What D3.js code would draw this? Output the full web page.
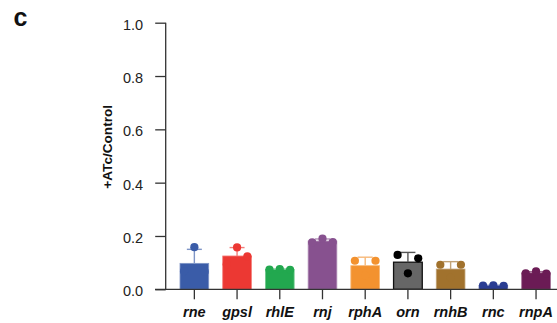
<!DOCTYPE html>
<html>
<head>
<meta charset="utf-8">
<script src="https://cdn.jsdelivr.net/npm/d3@7"></script>
<style>
  html, body { margin: 0; padding: 0; background: #fff; }
  svg { display: block; font-family: "Liberation Sans", Arial, Helvetica, sans-serif; }
</style>
</head>
<body>
<div id="chart"></div>
<script>
// Genes on the x axis
const genes = ['rne', 'gpsl', 'rhlE', 'rnj', 'rphA', 'orn', 'rnhB', 'rnc', 'rnpA'];
const fills = ['#3a5ca8', '#ec3833', '#22a84f', '#87518f', '#f3922f', '#666666', '#a1722d', '#2a3d92', '#6b1b55'];

// Replicates (left / centre / right dot)
const rep1 = [0.068, 0.094, 0.074, 0.176, 0.107, 0.129, 0.092, 0.014, 0.060];
const rep2 = [0.158, 0.157, 0.076, 0.190, 0.052, 0.060, 0.044, 0.015, 0.067];
const rep3 = [0.066, 0.124, 0.073, 0.177, 0.107, 0.116, 0.092, 0.013, 0.059];

const yTicks = [0, 0.2, 0.4, 0.6, 0.8, 1.0];

const width = 557, height = 323;
const svg = d3.select('#chart').append('svg')
  .attr('width', width)
  .attr('height', height);

const x = d3.scaleBand()
  .domain(genes)
  .range([173, 557.4])
  .paddingInner(0.328)
  .paddingOuter(0.164);

const y = d3.scaleLinear()
  .domain([0, 1])
  .range([289.3, 22.7]);

const rows = genes.map((g, i) => {
  const vals = [rep1[i], rep2[i], rep3[i]];
  return {
    gene: g,
    fill: fills[i],
    vals: vals,
    mean: d3.mean(vals),
    sd: d3.deviation(vals)
  };
});

const axisColor = '#333';
const lighten = c => d3.interpolateRgb(c, '#fff')(0.35);

// Y axis
const yAxis = svg.append('g')
  .attr('transform', 'translate(165.7,0)')
  .call(d3.axisLeft(y).tickValues(yTicks).tickSize(10.5).tickPadding(12).tickFormat(d3.format('.1f')));
yAxis.select('.domain').attr('stroke', axisColor).attr('stroke-width', 1.3).attr('d', `M0,${y(1)}V${y(0)}`);
yAxis.selectAll('.tick line').attr('stroke', axisColor).attr('stroke-width', 1.3);
yAxis.selectAll('.tick text')
  .attr('fill', '#222')
  .attr('font-size', '14.5px')
  .attr('dy', '0.45em')
  .style('font-family', '"Liberation Sans", Arial, sans-serif');

// Bars
svg.selectAll('rect.bar')
  .data(rows)
  .join('rect')
  .attr('class', 'bar')
  .attr('x', d => x(d.gene))
  .attr('y', d => y(d.mean))
  .attr('width', x.bandwidth())
  .attr('height', d => y(0) - y(d.mean))
  .attr('fill', d => d.fill)
  .attr('stroke', d => d.gene === 'orn' ? '#111' : lighten(d.fill))
  .attr('stroke-width', d => d.gene === 'orn' ? 1.3 : 0.8);

// Error bars (mean + SD, upward only)
const capHalf = 7.5;
const err = svg.selectAll('g.err')
  .data(rows)
  .join('g')
  .attr('class', 'err')
  .attr('stroke', d => d.gene === 'orn' ? '#555' : lighten(d.fill))
  .attr('stroke-width', 1.4);
err.append('line')
  .attr('x1', d => x(d.gene) + x.bandwidth() / 2)
  .attr('x2', d => x(d.gene) + x.bandwidth() / 2)
  .attr('y1', d => y(d.mean))
  .attr('y2', d => y(d.mean + d.sd));
err.append('line')
  .attr('x1', d => x(d.gene) + x.bandwidth() / 2 - capHalf)
  .attr('x2', d => x(d.gene) + x.bandwidth() / 2 + capHalf)
  .attr('y1', d => y(d.mean + d.sd))
  .attr('y2', d => y(d.mean + d.sd));

// Replicate dots
const dotOffset = [-10.3, 0, 10.3];
rows.forEach(d => {
  const cx = x(d.gene) + x.bandwidth() / 2;
  svg.selectAll(null)
    .data(d.vals)
    .join('circle')
    .attr('cx', (v, j) => cx + dotOffset[j])
    .attr('cy', v => y(v))
    .attr('r', 4.1)
    .attr('fill', d.gene === 'orn' ? '#000' : d.fill);
});

// X axis line and ticks
svg.append('line')
  .attr('x1', 155).attr('x2', width)
  .attr('y1', y(0)).attr('y2', y(0))
  .attr('stroke', axisColor).attr('stroke-width', 1.3);

const xt = svg.selectAll('g.xtick')
  .data(genes)
  .join('g')
  .attr('class', 'xtick')
  .attr('transform', d => `translate(${x(d) + x.bandwidth() / 2},${y(0)})`);
xt.append('line')
  .attr('y1', 0).attr('y2', 10)
  .attr('stroke', axisColor).attr('stroke-width', 1.3);
xt.append('text')
  .attr('y', 27.7)
  .attr('text-anchor', 'middle')
  .attr('font-size', '14.5px')
  .attr('font-weight', 'bold')
  .attr('font-style', 'italic')
  .attr('fill', '#111')
  .text(d => d);

// Y title
svg.append('text')
  .attr('transform', 'translate(111.5,146.8) rotate(-90)')
  .attr('text-anchor', 'middle')
  .attr('font-size', '13.6px')
  .attr('font-weight', 'bold')
  .attr('fill', '#111')
  .text('+ATc/Control');

// Panel letter
svg.append('text')
  .attr('x', 13.5)
  .attr('y', 25.7)
  .attr('font-size', '25px')
  .attr('font-weight', 'bold')
  .attr('fill', '#111')
  .text('c');
</script>
</body>
</html>
